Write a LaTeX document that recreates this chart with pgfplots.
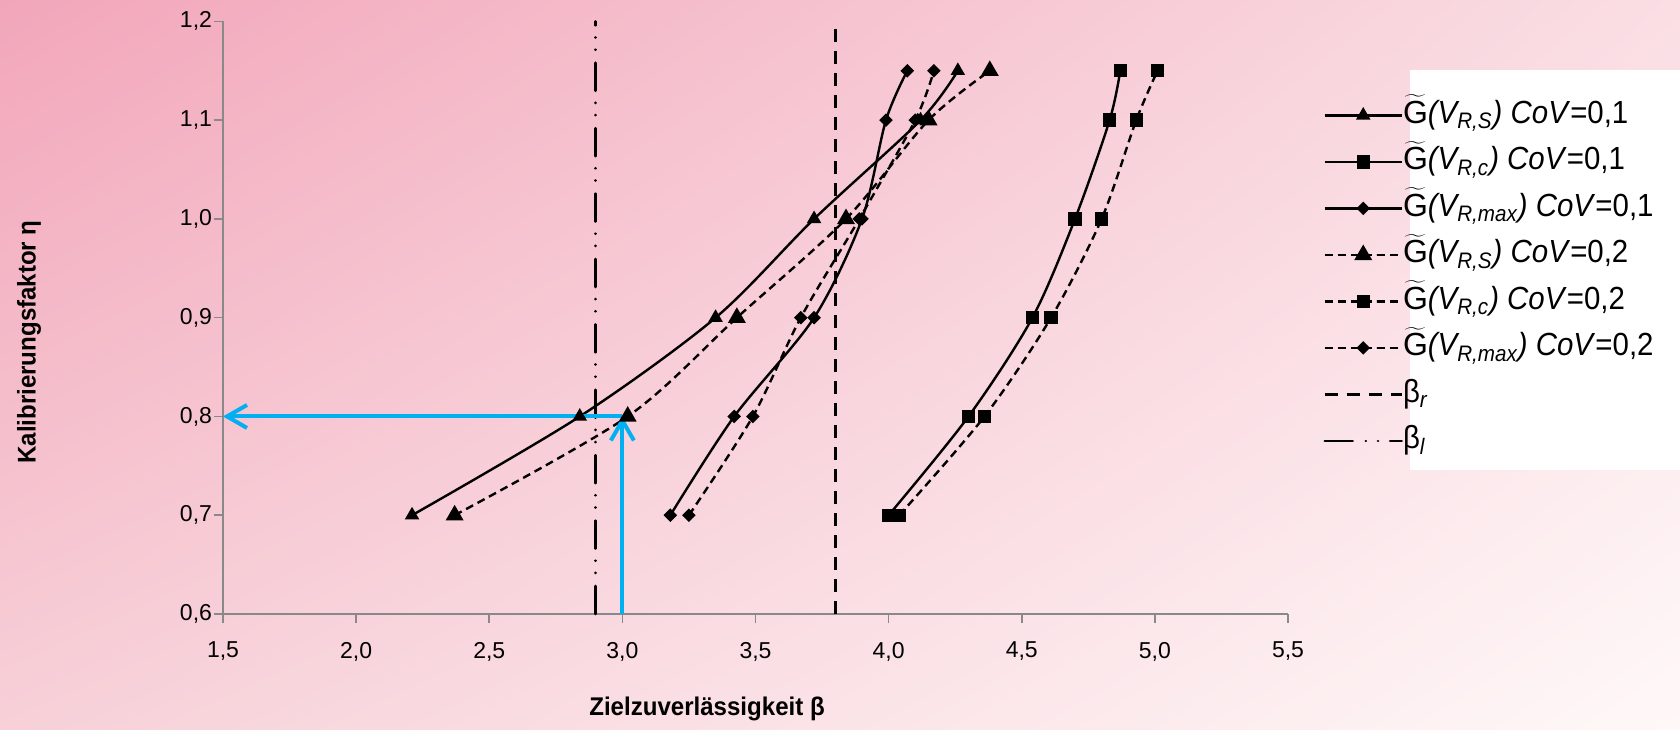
\documentclass[border=0pt]{standalone}
\usepackage{fontspec}
\setmainfont{Liberation Sans}
\newfontfamily\narrowfont[FakeStretch=0.92]{Liberation Sans}
\newfontfamily\labelfont[FakeStretch=0.94]{Liberation Sans}
\usepackage{pgfplots}
\pgfplotsset{compat=1.18}
\usetikzlibrary{arrows.meta,shadings}
\definecolor{axgray}{RGB}{137,137,137}
\definecolor{arrowblue}{RGB}{0,176,240}
\definecolor{bgTL}{RGB}{242,166,186}
\definecolor{bgTR}{RGB}{250,222,228}
\definecolor{bgBL}{RGB}{247,208,216}
\definecolor{bgBR}{RGB}{255,248,248}
\begin{document}
\begin{tikzpicture}
\useasboundingbox (0,0) rectangle (840bp,365bp);
\shade[upper left=bgTL, upper right=bgTR, lower left=bgBL, lower right=bgBR] (0,0) rectangle (840bp,365bp);
\fill[white] (705bp,130bp) rectangle (840bp,330bp);
\begin{axis}[
  at={(111.5bp,58bp)}, anchor=south west,
  scale only axis, width=532.5bp, height=296.3bp,
  xmin=1.5, xmax=5.5, ymin=0.6, ymax=1.2,
  clip=false,
  xtick={1.5,2.0,2.5,3.0,3.5,4.0,4.5,5.0,5.5},
  ytick={0.6,0.7,0.8,0.9,1.0,1.1,1.2},
  axis x line*=bottom, axis y line*=left,
  axis line style={draw=axgray, line width=1.1bp, -},
  every tick/.style={draw=axgray, line width=0.8bp},
  tick align=outside,
  major tick length=4.5bp,
  /pgf/number format/use comma,
  /pgf/number format/fixed,
  /pgf/number format/fixed zerofill,
  /pgf/number format/precision=1,
  /pgf/number format/assume math mode=true,
  tick label style={font=\fontsize{11.5bp}{13bp}\selectfont, text=black},
  xticklabel style={yshift=-6bp},
  yticklabel style={xshift=2.5bp},
  xlabel={Zielzuverlässigkeit β},
  ylabel={Kalibrierungsfaktor η},
  every axis x label/.style={at={(axis description cs:0.4545,-0.160)}, anchor=center, font=\labelfont\bfseries\fontsize{12.8bp}{15bp}\selectfont},
  every axis y label/.style={at={(axis description cs:-0.182,0.459)}, anchor=center, rotate=90, font=\labelfont\bfseries\fontsize{12.8bp}{15bp}\selectfont},
  legend style={at={(axis description cs:1.0329,0.869)}, anchor=north west, draw=none, fill=none,
    font=\narrowfont\fontsize{16bp}{19bp}\selectfont, inner sep=0pt,
    nodes={inner sep=0pt, text height=12bp, text depth=4bp},
    row sep=7.25bp,
    /tikz/every even column/.append style={column sep=3.5bp}},
  legend cell align=left,
  legend image code/.code={\draw[mark repeat=2,mark phase=2,#1] plot coordinates {(0bp,0bp) (19.25bp,0bp) (38.5bp,0bp)};},
]
% CoV = 0,1 (solid)
\addplot[black, line width=1.2bp, smooth, mark=triangle*, mark size=3bp] coordinates {(2.21,0.7) (2.84,0.8) (3.35,0.9) (3.72,1.0) (4.12,1.1) (4.26,1.15)};
\addlegendentry{$\widetilde{\mathrm{G}}$\textit{(V\textsubscript{R,S}) CoV}=0,1}
\addplot[black, line width=1.2bp, smooth, mark=square*, mark size=2.75bp] coordinates {(4.00,0.7) (4.30,0.8) (4.54,0.9) (4.70,1.0) (4.83,1.1) (4.87,1.15)};
\addlegendentry{$\widetilde{\mathrm{G}}$\textit{(V\textsubscript{R,c}) CoV}=0,1}
\addplot[black, line width=1.2bp, smooth, mark=square*, mark size=1.8bp, mark options={rotate=45}] coordinates {(3.18,0.7) (3.42,0.8) (3.72,0.9) (3.90,1.0) (3.99,1.1) (4.07,1.15)};
\addlegendentry{$\widetilde{\mathrm{G}}$\textit{(V\textsubscript{R,max}) CoV}=0,1}
% CoV = 0,2 (dashed)
\addplot[black, line width=1.2bp, smooth, dash pattern=on 4bp off 2.5bp, mark=triangle*, mark size=4bp, mark options={solid}] coordinates {(2.37,0.7) (3.02,0.8) (3.43,0.9) (3.84,1.0) (4.15,1.1) (4.38,1.15)};
\addlegendentry{$\widetilde{\mathrm{G}}$\textit{(V\textsubscript{R,S}) CoV}=0,2}
\addplot[black, line width=1.2bp, smooth, dash pattern=on 4bp off 2.5bp, mark=square*, mark size=2.75bp, mark options={solid}] coordinates {(4.04,0.7) (4.36,0.8) (4.61,0.9) (4.80,1.0) (4.93,1.1) (5.01,1.15)};
\addlegendentry{$\widetilde{\mathrm{G}}$\textit{(V\textsubscript{R,c}) CoV}=0,2}
\addplot[black, line width=1.2bp, smooth, dash pattern=on 4bp off 2.5bp, mark=square*, mark size=1.8bp, mark options={solid, rotate=45}] coordinates {(3.25,0.7) (3.49,0.8) (3.67,0.9) (3.89,1.0) (4.10,1.1) (4.17,1.15)};
\addlegendentry{$\widetilde{\mathrm{G}}$\textit{(V\textsubscript{R,max}) CoV}=0,2}
% target reliabilities
\addplot[black, line width=1.2bp, dash pattern=on 6.5bp off 4.5bp] coordinates {(3.8,0.6) (3.8,1.2)};
\addlegendentry{β\textsubscript{\textit{r}}}
\addplot[black, line width=1.3bp, line cap=round, dash pattern=on 14bp off 6.5bp on 0.1bp off 6bp on 0.1bp off 6bp] coordinates {(2.9,0.6) (2.9,1.2)};
\addlegendentry{β\textsubscript{\textit{l}}}
% blue arrows
\addplot[arrowblue, line width=2bp, -{Straight Barb[length=10bp,width=11.5bp]}, forget plot] coordinates {(3.0,0.6) (3.0,0.8)};
\addplot[arrowblue, line width=2bp, -{Straight Barb[length=10bp,width=11.5bp]}, forget plot] coordinates {(3.0,0.8) (1.5,0.8)};
\end{axis}
\end{tikzpicture}
\end{document}
